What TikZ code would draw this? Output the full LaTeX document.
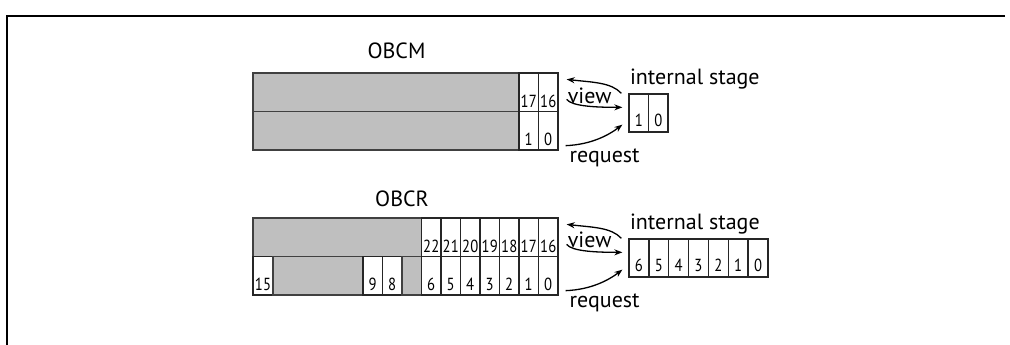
\documentclass[tikz,border=0pt]{standalone}
\usepackage{fontspec}
\setmainfont{PT Sans}
\newfontfamily\cellfont[FakeStretch=0.84]{PT Sans}
\usetikzlibrary{arrows.meta}

\begin{document}
\begin{tikzpicture}[x=1pt, y=-1pt, line width=1.3pt,
		blk/.style={draw=black!75, fill=black!25, inner sep=0pt, minimum height=38.5pt},
		cell/.style={draw=black!85, fill=white, inner sep=0pt, minimum width=19.5pt,
			minimum height=38.5pt, text height=29.5pt, text depth=0pt,
			font=\cellfont\fontsize{17.5}{17.5}\selectfont},
		stagecell/.style={cell, minimum width=19.85pt, minimum height=38pt, text height=26pt},
		lbl/.style={inner sep=0pt, font=\fontsize{22}{22}\selectfont},
		arr/.style={line width=1.3pt, -{Stealth[length=8pt,width=6pt]}}]
	\useasboundingbox (0,0) rectangle (1010,345);
	% frame
	\draw[line width=1.5pt] (1005,16) -- (7,16) -- (7,345);

	% OBCM
	\node[lbl] (tM) at (396.5,51) {OBCM};
	\node[blk, minimum width=266pt] (mHi) at (386,92.25) {};
	\node[blk, minimum width=266pt] (mLo) at (386,130.75) {};
	\node[cell] (m17) at (528.75,92.25) {17};
	\node[cell] (m16) at (548.25,92.25) {16};
	\node[cell] (m1) at (528.75,130.75) {1};
	\node[cell] (m0) at (548.25,130.75) {0};

	\node[stagecell, minimum width=19.5pt] (sM1) at (638.75,113) {1};
	\node[stagecell, minimum width=19.5pt] (sM0) at (658.25,113) {0};
	\node[lbl, anchor=base west] (isM) at ([xshift=1pt,yshift=9pt]sM1.north west) {internal stage};

	\node[lbl] (vM) at ([xshift=31pt,yshift=-23pt]m16.north east) {view};
	\node[lbl] (rqM) at ([xshift=46pt,yshift=-7pt]m0.south east) {request};
	\draw[arr] ([xshift=-7pt]sM1.north west) .. controls +(-10,-11) and +(26,3) .. ([xshift=8pt,yshift=-7pt]m16.north east);
	\draw[arr] ([xshift=8pt,yshift=-27pt]m16.north east) .. controls +(5,7) and +(-26,0) .. ([xshift=-6pt,yshift=-14pt]sM1.north west);
	\draw[arr] ([xshift=7pt,yshift=5pt]m0.south east) .. controls +(26,-1) and +(-13,10) .. ([xshift=-6pt,yshift=8pt]sM1.south west);

	% OBCR
	\node[lbl] (tR) at (402,199) {OBCR};
	\node[blk, minimum width=168.5pt] (rHi) at (337.25,237.25) {};
	\foreach \n [count=\i] in {22,21,...,16}
		\node[cell] (r\n) at (411.75+19.5*\i,237.25) {\n};
	\node[cell, minimum width=20pt] (r15) at (263,275.75) {15};
	\node[blk, minimum width=90pt] (rMid) at (318,275.75) {};
	\node[cell] (r9) at (372.75,275.75) {9};
	\node[cell] (r8) at (392.25,275.75) {8};
	\node[blk, minimum width=19.5pt] (r7) at (411.75,275.75) {};
	\foreach \n [count=\i] in {6,5,...,0}
		\node[cell] (rLo\n) at (411.75+19.5*\i,275.75) {\n};

	\foreach \n [count=\i] in {6,5,...,0}
		\node[stagecell] (sR\n) at (619.08+19.85*\i,258) {\n};
	\node[lbl, anchor=base west] (isR) at ([xshift=1pt,yshift=9pt]sR6.north west) {internal stage};

	\node[lbl] (vR) at ([xshift=31pt,yshift=-22pt]r16.north east) {view};
	\node[lbl] (rqR) at ([xshift=46pt,yshift=-7pt]rLo0.south east) {request};
	\draw[arr] ([xshift=-7pt]sR6.north west) .. controls +(-10,-11) and +(26,3) .. ([xshift=8pt,yshift=-7pt]r16.north east);
	\draw[arr] ([xshift=8pt,yshift=-27pt]r16.north east) .. controls +(5,7) and +(-26,0) .. ([xshift=-6pt,yshift=-14pt]sR6.north west);
	\draw[arr] ([xshift=7pt,yshift=5pt]rLo0.south east) .. controls +(26,-1) and +(-13,10) .. ([xshift=-6pt,yshift=8pt]sR6.south west);
\end{tikzpicture}
\end{document}
